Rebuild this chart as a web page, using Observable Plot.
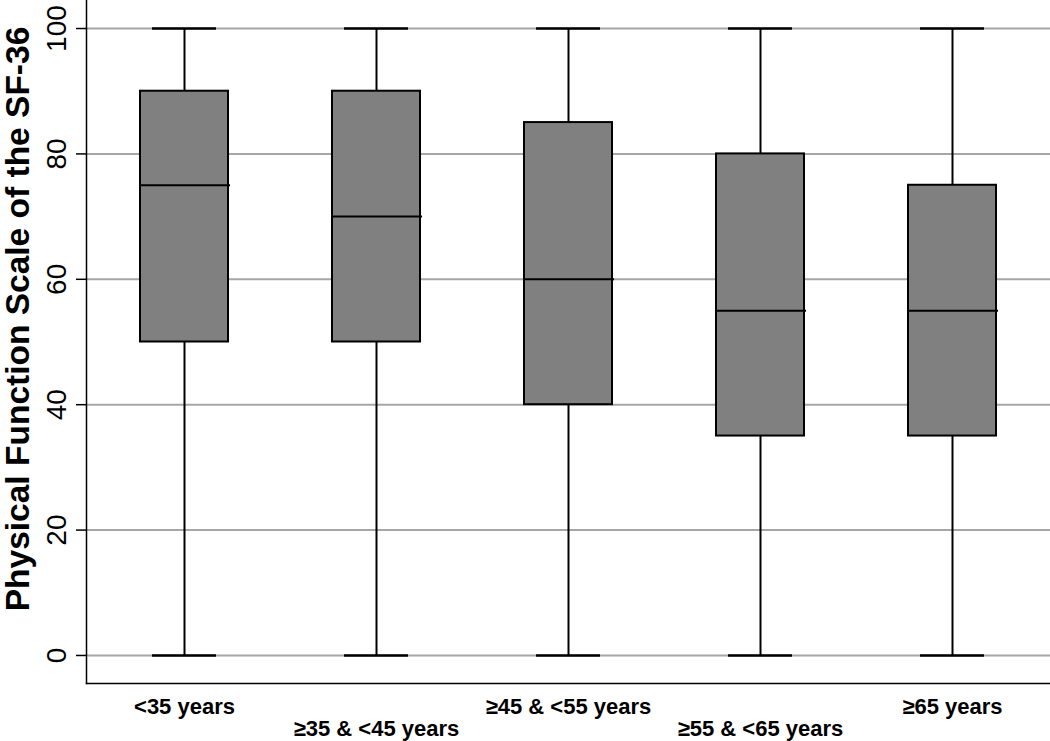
<!DOCTYPE html>
<html><head><meta charset="utf-8">
<script src="https://cdn.jsdelivr.net/npm/d3@7"></script>
<script src="https://cdn.jsdelivr.net/npm/@observablehq/plot@0.6"></script>
<style>body{margin:0;background:#fff}#chart svg{display:block}</style>
</head><body><div id="chart"></div>
<script>
const categories = ["<35 years", "≥35 & <45 years", "≥45 & <55 years", "≥55 & <65 years", "≥65 years"];
const minValues = [0, 0, 0, 0, 0];
const q1Values = [50, 50, 40, 35, 35];
const medianValues = [75, 70, 60, 55, 55];
const q3Values = [90, 90, 85, 80, 75];
const maxValues = [100, 100, 100, 100, 100];
const yTicks = [0, 20, 40, 60, 80, 100];
const yLabel = "Physical Function Scale of the SF-36";

const data = categories.map((c, i) => ({cat: c, min: minValues[i], q1: q1Values[i], med: medianValues[i], q3: q3Values[i], max: maxValues[i]}));
const font = "'Liberation Sans', Arial, Helvetica, sans-serif";
const rowA = categories.filter((c, i) => i % 2 === 0);
const rowB = categories.filter((c, i) => i % 2 === 1);

const chart = Plot.plot({
  width: 1050, height: 741,
  marginLeft: 86, marginRight: 0, marginTop: 0, marginBottom: 58,
  style: {fontFamily: font, background: "#fff", color: "#000"},
  x: {domain: categories, padding: 0, axis: null},
  y: {domain: [-4.47, 104.47], axis: null},
  marks: [
    Plot.gridY(yTicks, {stroke: "#a6a6a6", strokeOpacity: 1, strokeWidth: 2}),
    Plot.ruleX(data, {x: "cat", y1: "min", y2: "q1", stroke: "#000", strokeWidth: 2}),
    Plot.ruleX(data, {x: "cat", y1: "q3", y2: "max", stroke: "#000", strokeWidth: 2}),
    Plot.tickY(data, {x: "cat", y: "min", insetLeft: 64, insetRight: 64, stroke: "#000", strokeWidth: 2.5}),
    Plot.tickY(data, {x: "cat", y: "max", insetLeft: 64, insetRight: 64, stroke: "#000", strokeWidth: 2.5}),
    Plot.barY(data, {x: "cat", y1: "q1", y2: "q3", insetLeft: 52, insetRight: 52, fill: "#808080", stroke: "#000", strokeWidth: 2}),
    Plot.tickY(data, {x: "cat", y: "med", insetLeft: 52, insetRight: 50, stroke: "#000", strokeWidth: 2}),
    Plot.frame({anchor: "left", stroke: "#000", strokeWidth: 1.5}),
    Plot.frame({anchor: "bottom", stroke: "#000", strokeWidth: 1.5}),
    Plot.axisY(yTicks, {tickSize: 10, tickPadding: 11, tickRotate: -90, fontSize: 28, stroke: "#000", strokeWidth: 1.5, label: null}),
    Plot.axisX(rowA, {tickSize: 0, tickPadding: 15, fontSize: 22, fontWeight: "bold", label: null}),
    Plot.axisX(rowB, {tickSize: 0, tickPadding: 37, fontSize: 22, fontWeight: "bold", label: null}),
    Plot.text([yLabel], {frameAnchor: "left", dx: -68, dy: -23, rotate: -90, fontSize: 33.5, fontWeight: "bold", textAnchor: "middle", lineAnchor: "middle", fill: "#000"})
  ]
});
document.getElementById("chart").append(chart);
</script>
</body></html>
